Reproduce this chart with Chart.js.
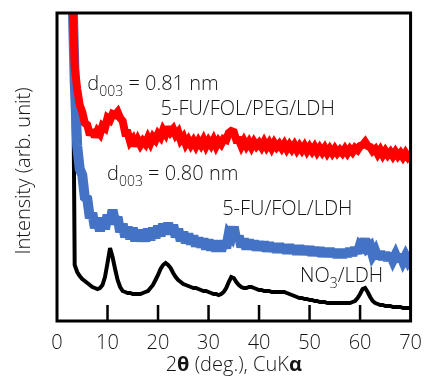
<!DOCTYPE html>
<html>
<head>
<meta charset="utf-8">
<script src="https://cdn.jsdelivr.net/npm/chart.js@4/dist/chart.umd.min.js"></script>
<style>
  html, body { margin: 0; padding: 0; background: #fff; }
  #wrap { width: 432px; height: 384px; }
</style>
</head>
<body>
<div id="wrap"><canvas id="xrd"></canvas></div>
<script>
// 2theta grid (deg.)
const angles = [
  3, 3.5, 4, 4.5, 5, 5.5, 6, 6.5, 7, 7.5,
  8, 8.5, 9, 9.5, 10, 10.5, 11, 11.5, 12, 12.5,
  13, 13.5, 14, 14.5, 15, 15.5, 16, 16.5, 17, 17.5,
  18, 18.5, 19, 19.5, 20, 20.5, 21, 21.5, 22, 22.5,
  23, 23.5, 24, 24.5, 25, 25.5, 26, 26.5, 27, 27.5,
  28, 28.5, 29, 29.5, 30, 30.5, 31, 31.5, 32, 32.5,
  33, 33.5, 34, 34.5, 35, 35.5, 36, 36.5, 37, 37.5,
  38, 38.5, 39, 39.5, 40, 40.5, 41, 41.5, 42, 42.5,
  43, 43.5, 44, 44.5, 45, 45.5, 46, 46.5, 47, 47.5,
  48, 48.5, 49, 49.5, 50, 50.5, 51, 51.5, 52, 52.5,
  53, 53.5, 54, 54.5, 55, 55.5, 56, 56.5, 57, 57.5,
  58, 58.5, 59, 59.5, 60, 60.5, 61, 61.5, 62, 62.5,
  63, 63.5, 64, 64.5, 65, 65.5, 66, 66.5, 67, 67.5,
  68, 68.5, 69, 69.5, 70
];

// 5-FU/FOL/PEG/LDH (red, offset)
const pegLdh = [
  340, 254, 232, 216, 209, 198, 196, 186, 191, 184,
  190, 187, 195, 193, 203, 201, 207, 206, 209, 203,
  200, 188, 188, 179, 182, 175, 181, 176, 180, 177,
  183, 178, 184, 181, 187, 184, 191, 187, 194, 189,
  192, 186, 189, 181, 184, 177, 181, 176, 180, 175,
  180, 176, 181, 175, 180, 176, 181, 175, 180, 177,
  182, 181, 188, 190, 189, 181, 181, 175, 180, 175,
  179, 174, 179, 175, 178, 174, 179, 174, 178, 173,
  178, 174, 177, 173, 177, 172, 176, 172, 176, 171,
  175, 171, 175, 170, 174, 170, 174, 169, 173, 169,
  173, 168, 172, 168, 172, 168, 171, 168, 172, 168,
  172, 169, 173, 171, 175, 176, 179, 175, 174, 170,
  172, 167, 171, 166, 170, 166, 169, 165, 169, 165,
  168, 164, 168, 164, 167
];

// 5-FU/FOL/LDH (blue, offset)
const folLdh = [
  340, 240, 175, 152, 146, 124, 122, 103, 108, 93,
  103, 90, 103, 92, 106, 97, 111, 99, 104, 89,
  97, 84, 94, 82, 93, 80, 91, 80, 90, 80,
  92, 81, 93, 83, 95, 85, 97, 87, 98, 87,
  96, 84, 92, 80, 89, 78, 87, 77, 85, 75,
  83, 74, 82, 72, 81, 71, 80, 70, 79, 70,
  80, 73, 87, 84, 94, 80, 85, 74, 82, 72,
  81, 72, 80, 71, 79, 71, 79, 70, 78, 70,
  77, 69, 77, 69, 76, 68, 76, 68, 75, 67,
  75, 67, 74, 67, 74, 66, 73, 66, 73, 65,
  72, 65, 72, 65, 71, 64, 71, 64, 71, 65,
  72, 66, 73, 68, 76, 74, 82, 73, 75, 66,
  70, 63, 69, 62, 68, 61, 67, 61, 66, 60,
  66, 60, 65, 60, 64
];

// NO3/LDH (black)
const no3Ldh = [
  400, 56, 49, 45, 42, 40, 38, 36, 34, 33,
  32, 33, 36, 44, 58, 73, 64, 52, 41, 34,
  30, 29, 28, 28, 27, 27, 27, 27, 28, 29,
  30, 33, 36, 41, 46, 52, 56, 58, 56, 53,
  48, 44, 41, 39, 37, 36, 35, 34, 33, 33,
  32, 31, 30, 30, 29, 28, 27, 27, 26, 27,
  29, 33, 39, 44, 43, 39, 36, 34, 33, 33,
  34, 34, 33, 32, 31, 31, 30, 30, 30, 29,
  29, 29, 29, 29, 29, 28, 27, 26, 25, 24,
  23, 23, 22, 22, 21, 21, 20, 20, 19, 19,
  19, 18, 18, 18, 18, 18, 18, 18, 18, 18,
  18, 19, 20, 23, 27, 32, 33, 29, 24, 20,
  18, 17, 16, 16, 15, 15, 15, 14, 14, 14,
  14, 13, 13, 13, 13
];

const xTicks = [0, 10, 20, 30, 40, 50, 60, 70];

// text notes placed in data coordinates; [text, isSubscript]
const notes = [
  { x: 6.0, y: 231, parts: [['d'], ['003', 1], [' = 0.81 nm']] },
  { x: 20.5, y: 206, parts: [['5-FU/FOL/PEG/LDH']] },
  { x: 9.9, y: 141, parts: [['d'], ['003', 1], [' = 0.80 nm']] },
  { x: 32.7, y: 106, parts: [['5-FU/FOL/LDH']] },
  { x: 48.1, y: 39, parts: [['NO'], ['3', 1], ['/LDH']] }
];

const FONT = "'Open Sans', 'DejaVu Sans', sans-serif";
const TEXT = '#141414';

function pts(ys) {
  return angles.map((x, i) => ({ x: x, y: ys[i] }));
}

function drawParts(ctx, parts, x, y) {
  let cx = x;
  parts.forEach(p => {
    const sub = p[1] === 1;
    ctx.font = '300 ' + (sub ? '14px ' : '20px ') + FONT;
    ctx.fillText(p[0], cx, sub ? y + 6 : y);
    cx += ctx.measureText(p[0]).width;
  });
}

const decor = {
  id: 'decor',
  // shorter miter spikes so the noisy traces look like a band
  beforeDatasetsDraw(chart) { chart.ctx.miterLimit = 2.5; },
  afterDatasetsDraw(chart) { chart.ctx.miterLimit = 10; },
  afterDraw(chart) {
    const { ctx, chartArea: a, scales: { x, y } } = chart;
    ctx.save();
    ctx.strokeStyle = '#000';
    ctx.lineWidth = 3;
    ctx.strokeRect(a.left, a.top, a.right - a.left, a.bottom - a.top);
    ctx.lineWidth = 2.5;
    xTicks.forEach(v => {
      const px = x.getPixelForValue(v);
      if (px <= a.left + 2 || px >= a.right - 2) return;
      ctx.beginPath();
      ctx.moveTo(px, a.bottom);
      ctx.lineTo(px, a.bottom - 16);
      ctx.stroke();
    });

    ctx.fillStyle = TEXT;
    ctx.textAlign = 'left';
    ctx.textBaseline = 'alphabetic';
    notes.forEach(n => drawParts(ctx, n.parts, x.getPixelForValue(n.x), y.getPixelForValue(n.y)));

    // x axis title with bold greek letters
    const title = [['2', 0], ['\u03b8', 1], [' (deg.), CuK', 0], ['\u03b1', 1]];
    const fontFor = t => (t[1] ? 'bold ' : '300 ') + '20px ' + FONT;
    let w = 0;
    title.forEach(t => {
      ctx.font = fontFor(t);
      w += ctx.measureText(t[0]).width;
    });
    let cx = (a.left + a.right) / 2 - w / 2;
    title.forEach(t => {
      ctx.font = fontFor(t);
      ctx.fillText(t[0], cx, 371);
      cx += ctx.measureText(t[0]).width;
    });

    // y axis title
    ctx.translate(24, 171);
    ctx.rotate(-Math.PI / 2);
    ctx.textAlign = 'center';
    ctx.textBaseline = 'middle';
    ctx.font = '300 20px ' + FONT;
    ctx.fillText('Intensity (arb. unit)', 0, 0);
    ctx.restore();
  }
};

new Chart(document.getElementById('xrd'), {
  type: 'line',
  data: {
    datasets: [
      { label: '5-FU/FOL/PEG/LDH', data: pts(pegLdh), borderColor: '#ff0000', borderWidth: 8, clip: 0 },
      { label: '5-FU/FOL/LDH', data: pts(folLdh), borderColor: '#4472c4', borderWidth: 10, clip: 0 },
      { label: 'NO3/LDH', data: pts(no3Ldh), borderColor: '#000000', borderWidth: 4, clip: 0 }
    ]
  },
  options: {
    responsive: true,
    maintainAspectRatio: false,
    animation: false,
    layout: { padding: { top: 13, right: 13, left: 0, bottom: 0 } },
    elements: { point: { radius: 0 }, line: { tension: 0, borderJoinStyle: 'miter' } },
    plugins: { legend: { display: false }, tooltip: { enabled: false } },
    scales: {
      x: {
        type: 'linear',
        min: 0,
        max: 70,
        grid: { display: false, drawTicks: false },
        border: { display: false },
        afterBuildTicks: s => { s.ticks = xTicks.map(v => ({ value: v })); },
        afterFit: s => { s.height = 63; },
        ticks: { padding: 10, color: TEXT, font: { family: FONT, size: 20, weight: '300' } }
      },
      y: {
        min: 0,
        max: 308,
        grid: { display: false, drawTicks: false },
        border: { display: false },
        ticks: { display: false },
        afterFit: s => { s.width = 57; }
      }
    }
  },
  plugins: [decor]
});
</script>
</body>
</html>
